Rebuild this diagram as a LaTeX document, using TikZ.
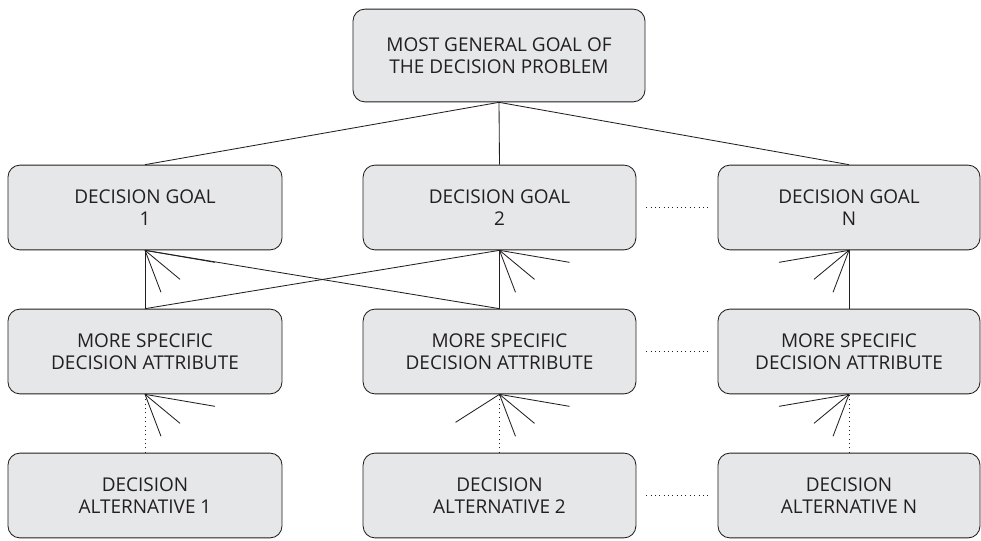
\documentclass[tikz,border=0pt]{standalone}
\usepackage{fontspec}
\setmainfont{Open Sans}
\definecolor{boxfill}{HTML}{E6E7E8}
\definecolor{boxline}{HTML}{231F20}
\begin{document}
\begin{tikzpicture}[x=0.025cm, y=-0.025cm, line width=0.6pt, draw=boxline,
  box/.style={draw=boxline, fill=boxfill, rounded corners=0.3cm, align=center,
    minimum height=2.12cm, font=\fontsize{13.5}{15.8}\selectfont, text=boxline},
  dots/.style={dash pattern=on 0.7pt off 2.4pt, line width=0.7pt}]
\useasboundingbox (0,0) rectangle (981,540);

\node[box, minimum width=7.3cm, minimum height=2.32cm] (goal) at (499,55.5) {MOST GENERAL GOAL OF\\THE DECISION PROBLEM};

\node[box, minimum width=6.85cm] (g1) at (145,207.5) {DECISION GOAL\\1};
\node[box, minimum width=6.82cm] (g2) at (499.5,207.5) {DECISION GOAL\\2};
\node[box, minimum width=6.55cm] (g3) at (849,207.5) {DECISION GOAL\\N};

\node[box, minimum width=6.85cm] (at1) at (145,351.5) {MORE SPECIFIC\\DECISION ATTRIBUTE};
\node[box, minimum width=6.82cm] (at2) at (499.5,351.5) {MORE SPECIFIC\\DECISION ATTRIBUTE};
\node[box, minimum width=6.55cm] (at3) at (849,351.5) {MORE SPECIFIC\\DECISION ATTRIBUTE};

\node[box, minimum width=6.85cm] (alt1) at (145,495.5) {DECISION\\ALTERNATIVE 1};
\node[box, minimum width=6.82cm] (alt2) at (499.5,495.5) {DECISION\\ALTERNATIVE 2};
\node[box, minimum width=6.55cm] (alt3) at (849,495.5) {DECISION\\ALTERNATIVE N};

% tree from the general goal
\draw (goal.south) -- (g1.north);
\draw (goal.south) -- (g2.north);
\draw (goal.south) -- (g3.north);

% attributes to goals
\draw (at1.north) -- (g1.south);
\draw (at1.north) -- (g2.south);
\draw (at2.north) -- (g2.south);
\draw (at2.north) -- (g1.south);
\draw (at3.north) -- (g3.south);

% alternatives to attributes
\draw[dots] (alt1.north) -- (at1.south);
\draw[dots] (alt2.north) -- (at2.south);
\draw[dots] (alt3.north) -- (at3.south);

% fan heads
\foreach \n in {g1, g2, at1, at2}
  \foreach \dx/\dy in {70/12, 35/29, 16/42}
    \draw (\n.south) -- ++(\dx,\dy);
\foreach \n in {g3, at3}
  \foreach \dx/\dy in {-70/12, -35/29, -16/42}
    \draw (\n.south) -- ++(\dx,\dy);
\draw (at2.south) -- ++(-44,28);

% dotted gaps between the columns
\draw[dots, shorten <=7pt, shorten >=7pt] (g2.east) -- (g3.west);
\draw[dots, shorten <=7pt, shorten >=7pt] (at2.east) -- (at3.west);
\draw[dots, shorten <=7pt, shorten >=7pt] (alt2.east) -- (alt3.west);
\end{tikzpicture}
\end{document}
